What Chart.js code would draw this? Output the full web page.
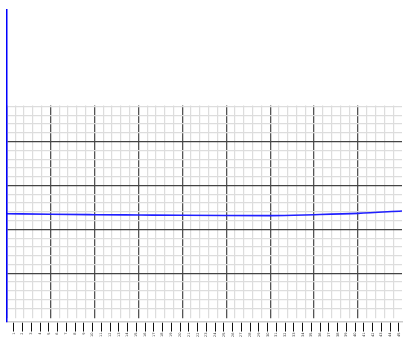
<!DOCTYPE html>
<html>
<head>
<meta charset="utf-8">
<script src="https://cdn.jsdelivr.net/npm/chart.js@4.4.1/dist/chart.umd.min.js"></script>
<style>
  html, body { margin: 0; padding: 0; background: #ffffff; }
  #wrap { width: 406px; height: 338px; position: relative; }
</style>
</head>
<body>
<div id="wrap"><canvas id="c" width="406" height="338"></canvas></div>
<script>
// ---- data (grid units) ----
const seriesX = [0, 1, 2, 3, 4, 5, 6, 7, 8, 9];
const seriesY = [2.358, 2.344, 2.335, 2.328, 2.321, 2.317, 2.315, 2.335, 2.365, 2.421];
const tickLabels = ['1','2','3','4','5','6','7','8','9','10','11','12','13','14','15','16','17','18','19','20',
  '21','22','23','24','25','26','27','28','29','30','31','32','33','34','35','36','37','38','39','40',
  '41','42','43','44','45'];
const gridTop = 4.8;   // top of the drawn grid, in y units

const isWhole = v => Math.abs(v - Math.round(v)) < 1e-6;

const gridClip = {
  id: 'gridClip',
  beforeDraw(chart) {
    const { ctx, scales } = chart;
    const y = scales.y;
    const top = y.getPixelForValue(gridTop) - 1;
    const bottom = y.getPixelForValue(0) + 1;
    ctx.save();
    ctx.beginPath();
    ctx.rect(0, top, chart.width, bottom - top);
    ctx.clip();
  },
  beforeDatasetsDraw(chart) {
    chart.ctx.restore();
  }
};

new Chart(document.getElementById('c'), {
  type: 'line',
  data: {
    datasets: [{
      data: seriesX.map((x, i) => ({ x, y: seriesY[i] })),
      borderColor: '#1f1fff',
      borderWidth: 1.6,
      pointRadius: 0,
      cubicInterpolationMode: 'monotone',
      fill: false,
      xAxisID: 'x',
      yAxisID: 'y'
    }]
  },
  options: {
    responsive: false,
    animation: false,
    events: [],
    layout: { padding: { left: 6.5, right: 4, top: 10, bottom: 0 } },
    plugins: { legend: { display: false }, tooltip: { enabled: false }, title: { display: false } },
    scales: {
      x: {
        type: 'linear',
        position: 'top',
        min: 0, max: 9,
        ticks: { display: false, stepSize: 0.2, maxTicksLimit: 1000 },
        border: { display: false },
        grid: {
          drawTicks: false,
          color: ctx => {
            const v = ctx.tick.value;
            if (v > 9 - 1e-6) return 'rgba(0,0,0,0)';
            return isWhole(v) ? '#555555' : '#dddddd';
          },
          lineWidth: ctx => isWhole(ctx.tick.value) ? 1.3 : 1.2
        }
      },
      x2: {
        type: 'linear',
        position: 'bottom',
        min: 0.17, max: 45.35,
        afterBuildTicks: scale => { scale.ticks = tickLabels.map((t, i) => ({ value: i + 1 })); },
        ticks: {
          display: true,
          autoSkip: false,
          padding: 1,
          maxRotation: 90, minRotation: 90,
          color: '#333333',
          font: { family: 'DejaVu Sans', size: 3.5 },
          callback: (v, i) => tickLabels[i],
          z: 1
        },
        border: { display: true, color: '#cccccc', width: 1.5, z: 1 },
        grid: {
          drawOnChartArea: false,
          drawTicks: true,
          tickLength: 10,
          color: '#111111',
          lineWidth: 1,
          z: 1
        }
      },
      y: {
        type: 'linear',
        position: 'left',
        min: -0.1, max: 7,
        ticks: { display: false, stepSize: 0.2, maxTicksLimit: 1000 },
        border: { display: true, color: '#0000ff', width: 1.5, z: 1 },
        grid: {
          drawTicks: false,
          color: ctx => {
            const v = ctx.tick.value;
            if (v < -1e-6 || v > gridTop + 1e-6) return 'rgba(0,0,0,0)';
            return isWhole(v) ? '#444444' : '#dddddd';
          },
          lineWidth: ctx => isWhole(ctx.tick.value) ? 1.3 : 1.2
        }
      }
    }
  },
  plugins: [gridClip]
});
</script>
</body>
</html>
